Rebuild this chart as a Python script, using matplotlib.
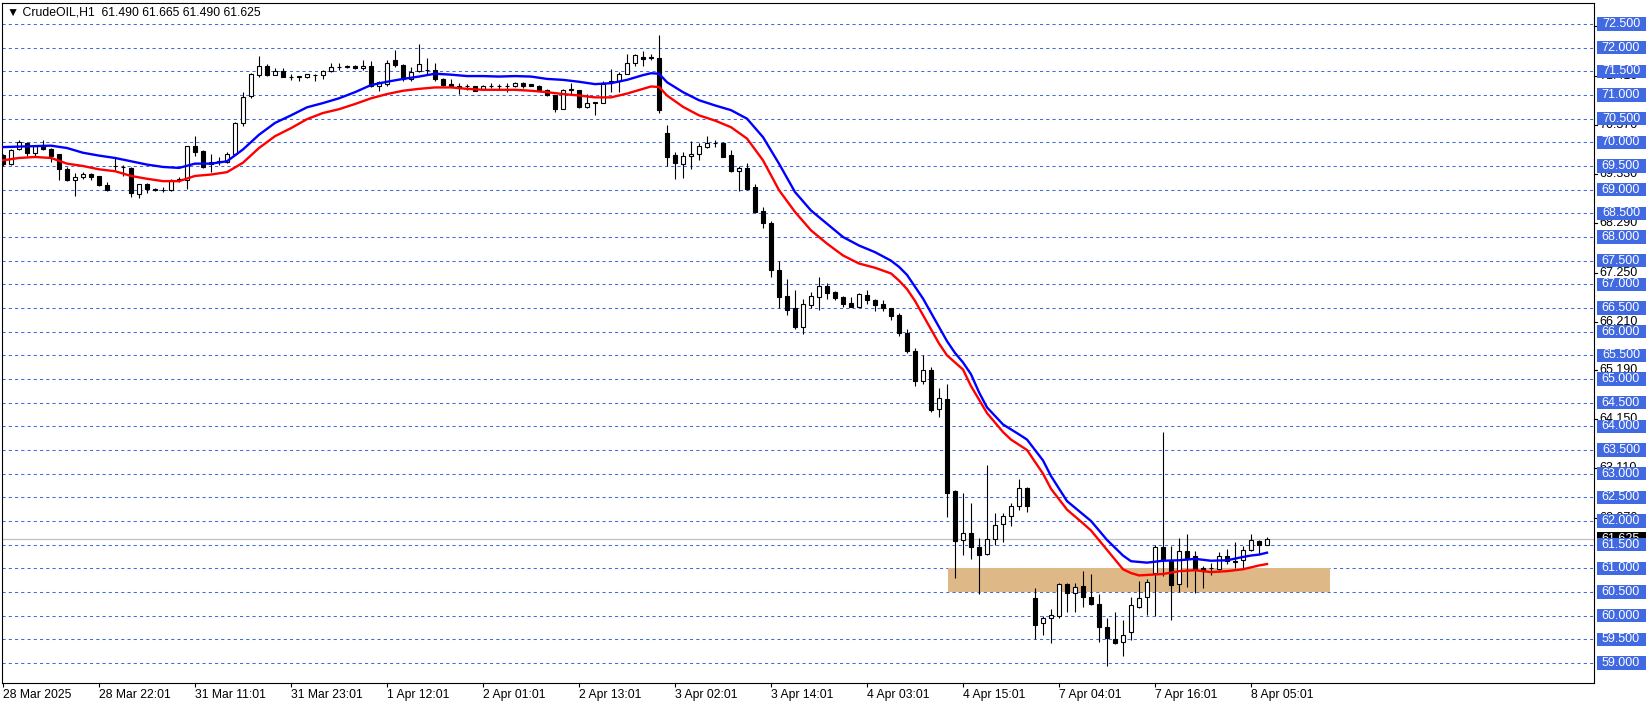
import numpy as np
import matplotlib.pyplot as plt
from matplotlib.patches import Rectangle
from matplotlib.transforms import blended_transform_factory

plt.rcParams['font.family'] = ['Liberation Sans', 'DejaVu Sans']

# CrudeOIL H1 candles (bar 0 = first visible bar)
opens = [69.73, 69.55, 69.85, 69.98, 69.77, 69.92, 69.86, 69.75, 69.43, 69.20,
         69.27, 69.33, 69.28, 69.09, 69.49, 69.48, 69.46, 68.91, 69.13, 69.02,
         69.00, 68.99, 69.21, 69.21, 69.92, 69.82, 69.54, 69.58, 69.59, 69.76,
         70.41, 70.97, 71.43, 71.62, 71.43, 71.50, 71.38, 71.38, 71.39, 71.42,
         71.43, 71.50, 71.59, 71.60, 71.62, 71.57, 71.62, 71.20, 71.23, 71.73,
         71.64, 71.34, 71.50, 71.53, 71.53, 71.34, 71.23, 71.20, 71.18, 71.18,
         71.13, 71.20, 71.19, 71.20, 71.18, 71.26, 71.23, 71.20, 71.11, 71.00,
         70.70, 71.13, 71.10, 70.74, 70.85, 70.84, 71.30, 71.30, 71.45, 71.68,
         71.80, 71.80, 71.79, 70.20, 69.73, 69.55, 69.71, 69.76, 69.90, 69.98,
         69.99, 69.73, 69.39, 69.46, 69.05, 68.54, 68.30, 67.30, 66.75, 66.49,
         66.10, 66.56, 66.73, 66.96, 66.84, 66.73, 66.60, 66.53, 66.77, 66.66,
         66.58, 66.50, 66.36, 65.98, 65.60, 64.95, 65.20, 64.37, 64.58, 62.63,
         61.60, 61.75, 61.45, 61.30, 61.62, 61.94, 62.10, 62.32, 62.70, 60.38,
         59.84, 59.94, 60.00, 60.67, 60.47, 60.63, 60.40, 60.24, 59.77, 59.51,
         59.44, 59.65, 60.19, 60.40, 60.91, 61.45, 61.16, 60.67, 61.36, 61.25,
         61.00, 61.00, 60.99, 61.25, 61.13, 61.17, 61.38, 61.57, 61.49]
highs = [69.75, 69.85, 70.06, 70.01, 69.94, 70.06, 69.87, 69.76, 69.48, 69.36,
         69.38, 69.35, 69.29, 69.17, 69.67, 69.53, 69.47, 69.12, 69.14, 69.04,
         69.05, 69.23, 69.27, 69.93, 70.13, 69.83, 69.75, 69.70, 69.79, 70.44,
         71.07, 71.47, 71.82, 71.66, 71.58, 71.57, 71.45, 71.41, 71.45, 71.45,
         71.52, 71.68, 71.67, 71.63, 71.64, 71.73, 71.71, 71.30, 71.73, 71.96,
         71.65, 71.59, 72.07, 71.79, 71.68, 71.35, 71.33, 71.26, 71.23, 71.19,
         71.21, 71.25, 71.23, 71.26, 71.28, 71.27, 71.24, 71.21, 71.12, 71.01,
         71.12, 71.26, 71.11, 71.02, 70.86, 71.29, 71.55, 71.48, 71.87, 71.87,
         71.92, 71.86, 72.26, 70.36, 69.80, 69.80, 70.02, 69.99, 70.13, 70.04,
         70.00, 69.83, 69.51, 69.57, 69.13, 68.63, 68.34, 67.49, 67.12, 66.87,
         66.68, 66.84, 67.15, 67.03, 66.86, 66.75, 66.73, 66.82, 66.87, 66.68,
         66.66, 66.51, 66.40, 66.05, 65.65, 65.50, 65.25, 64.80, 64.90, 62.65,
         62.60, 62.38, 61.64, 63.19, 62.17, 62.17, 62.39, 62.89, 62.72, 60.59,
         59.99, 60.13, 60.69, 60.70, 60.69, 60.95, 60.88, 60.45, 59.95, 60.08,
         59.90, 60.40, 60.73, 60.78, 61.50, 63.89, 61.47, 61.64, 61.72, 61.36,
         61.05, 61.12, 61.35, 61.41, 61.56, 61.48, 61.72, 61.60, 61.665]
lows = [69.50, 69.53, 69.83, 69.71, 69.71, 69.84, 69.59, 69.21, 69.18, 68.86,
        69.23, 69.21, 69.08, 68.98, 69.41, 69.29, 68.84, 68.83, 68.92, 68.97,
        68.96, 68.97, 69.16, 69.02, 69.71, 69.46, 69.38, 69.52, 69.57, 69.73,
        70.34, 70.93, 71.38, 71.40, 71.42, 71.37, 71.32, 71.30, 71.36, 71.29,
        71.34, 71.49, 71.53, 71.58, 71.56, 71.52, 71.16, 71.09, 71.20, 71.59,
        71.30, 71.30, 71.48, 71.45, 71.30, 71.18, 71.16, 71.02, 71.11, 71.08,
        71.12, 71.14, 71.11, 71.07, 71.16, 71.14, 71.18, 71.10, 70.97, 70.65,
        70.70, 71.02, 70.72, 70.72, 70.57, 70.83, 71.06, 71.06, 71.44, 71.62,
        71.61, 71.73, 70.62, 69.49, 69.23, 69.25, 69.44, 69.63, 69.87, 69.90,
        69.68, 69.37, 68.97, 69.00, 68.51, 68.20, 67.16, 66.49, 66.35, 66.05,
        65.96, 66.51, 66.46, 66.70, 66.66, 66.52, 66.52, 66.52, 66.58, 66.44,
        66.44, 66.24, 65.90, 65.55, 64.85, 64.90, 64.30, 64.20, 62.08, 60.80,
        61.29, 61.20, 60.46, 61.29, 61.50, 61.55, 61.90, 62.23, 62.20, 59.50,
        59.60, 59.42, 59.95, 60.08, 60.08, 60.19, 60.22, 59.44, 58.94, 59.40,
        59.14, 59.49, 60.16, 60.01, 60.00, 60.84, 59.91, 60.50, 60.60, 60.48,
        60.58, 60.85, 60.97, 61.10, 61.00, 61.00, 61.37, 61.30, 61.49]
closes = [69.55, 69.84, 70.00, 69.77, 69.92, 69.85, 69.71, 69.43, 69.20, 69.26,
          69.33, 69.26, 69.09, 69.00, 69.50, 69.48, 68.92, 69.11, 69.02, 69.00,
          69.00, 69.20, 69.22, 69.92, 69.80, 69.48, 69.58, 69.60, 69.75, 70.41,
          70.95, 71.45, 71.62, 71.43, 71.50, 71.38, 71.38, 71.40, 71.44, 71.43,
          71.50, 71.60, 71.60, 71.61, 71.57, 71.62, 71.20, 71.27, 71.68, 71.64,
          71.34, 71.48, 71.66, 71.53, 71.34, 71.21, 71.18, 71.14, 71.18, 71.09,
          71.20, 71.20, 71.18, 71.20, 71.26, 71.20, 71.20, 71.11, 70.99, 70.70,
          71.11, 71.11, 70.74, 70.83, 70.84, 71.23, 71.27, 71.45, 71.68, 71.84,
          71.77, 71.78, 70.68, 69.69, 69.56, 69.72, 69.75, 69.92, 69.98, 69.99,
          69.70, 69.39, 69.45, 69.01, 68.53, 68.30, 67.30, 66.73, 66.46, 66.10,
          66.58, 66.75, 66.96, 66.82, 66.71, 66.58, 66.53, 66.79, 66.66, 66.56,
          66.49, 66.34, 65.98, 65.60, 64.95, 65.20, 64.34, 64.60, 62.60, 61.57,
          61.75, 61.45, 61.29, 61.62, 61.92, 62.10, 62.32, 62.70, 62.31, 59.81,
          59.94, 60.02, 60.67, 60.47, 60.61, 60.40, 60.24, 59.77, 59.52, 59.42,
          59.60, 60.22, 60.38, 60.71, 61.45, 61.17, 60.64, 61.36, 61.21, 60.99,
          60.94, 61.00, 61.25, 61.15, 61.16, 61.38, 61.59, 61.50, 61.625]

# moving averages (blue / red), read at bar positions
blue_bars = [0, 2, 4, 6, 8, 10, 12, 14, 16, 18, 20, 22, 24, 26, 28, 30, 32, 34, 36, 38,
             40, 42, 44, 46, 48, 50, 52, 54, 56, 58, 60, 62, 64, 66, 68, 70, 72, 74, 76, 78,
             80, 81, 82, 83, 85, 87, 89, 91, 93, 95, 97, 99, 101, 103, 105, 107, 109, 111, 112,
             113, 114, 115, 116, 117, 118, 119, 120, 121, 122, 123, 125, 127, 128, 130, 131,
             133, 135, 136, 138, 140, 141, 143, 145, 147, 149, 151, 153, 155, 156, 157, 158]
blue_vals = [69.90, 69.91, 69.92, 69.93, 69.88, 69.78, 69.72, 69.67, 69.60, 69.53,
             69.48, 69.46, 69.55, 69.55, 69.60, 69.85, 70.16, 70.41, 70.57, 70.74,
             70.83, 70.93, 71.06, 71.21, 71.28, 71.34, 71.39, 71.45, 71.43, 71.40,
             71.40, 71.39, 71.40, 71.39, 71.34, 71.32, 71.28, 71.23, 71.25, 71.32,
             71.42, 71.46, 71.45, 71.27, 71.06, 70.89, 70.78, 70.68, 70.50, 70.11,
             69.55, 68.95, 68.56, 68.28, 68.00, 67.82, 67.68, 67.50, 67.37,
             67.20, 66.95, 66.70, 66.40, 66.10, 65.80, 65.55, 65.35, 65.10, 64.72,
             64.40, 64.04, 63.83, 63.72, 63.28, 62.95, 62.42, 62.14, 62.00, 61.60,
             61.27, 61.15, 61.12, 61.16, 61.17, 61.20, 61.16, 61.17, 61.24, 61.27,
             61.29, 61.33]
red_bars = [0, 2, 4, 6, 8, 10, 12, 14, 16, 18, 20, 22, 24, 26, 28, 30, 32, 34, 36, 38,
            40, 42, 44, 46, 48, 50, 52, 54, 56, 58, 60, 62, 64, 66, 68, 70, 72, 74, 76, 78,
            80, 81, 82, 83, 85, 87, 89, 91, 93, 95, 97, 99, 101, 103, 105, 107, 109, 111, 112,
            113, 114, 115, 116, 117, 118, 119, 120, 121, 123, 125, 126, 128, 130, 131, 133,
            135, 136, 138, 140, 141, 142, 143, 145, 147, 149, 151, 153, 155, 156, 157, 158]
red_vals = [69.62, 69.67, 69.69, 69.67, 69.55, 69.50, 69.43, 69.39, 69.29, 69.23,
            69.18, 69.18, 69.29, 69.32, 69.37, 69.57, 69.88, 70.13, 70.30, 70.49,
            70.62, 70.70, 70.81, 70.93, 71.02, 71.09, 71.13, 71.16, 71.16, 71.13,
            71.11, 71.11, 71.11, 71.09, 71.06, 71.02, 70.99, 70.95, 70.95, 71.03,
            71.13, 71.18, 71.17, 70.99, 70.75, 70.57, 70.46, 70.32, 70.08, 69.62,
            68.99, 68.53, 68.14, 67.86, 67.61, 67.44, 67.35, 67.23, 67.08,
            66.90, 66.65, 66.35, 66.05, 65.75, 65.50, 65.35, 65.20, 64.85, 64.28,
            63.88, 63.72, 63.50, 63.00, 62.68, 62.24, 61.95, 61.80, 61.39, 60.98,
            60.90, 60.85, 60.86, 60.88, 60.94, 60.96, 60.92, 60.94, 60.98, 61.02,
            61.06, 61.09]

tick_bars = [0, 12, 24, 36, 48, 60, 72, 84, 96, 108, 120, 132, 144, 156]
tick_labels = ['28 Mar 2025', '28 Mar 22:01', '31 Mar 11:01', '31 Mar 23:01',
               '1 Apr 12:01', '2 Apr 01:01', '2 Apr 13:01', '3 Apr 02:01',
               '3 Apr 14:01', '4 Apr 03:01', '4 Apr 15:01', '7 Apr 04:01',
               '7 Apr 16:01', '8 Apr 05:01']

grid_levels = np.arange(59.0, 72.51, 0.5)
scale_labels = [72.45, 71.41, 70.37, 69.33, 68.29, 67.25, 66.21, 65.19, 64.15, 63.11, 62.07]
last_price = 61.625
zone_lo, zone_hi = 60.5, 61.0
zone_from, zone_to = 118.1, 165.9

W, H = 1651, 707
fig = plt.figure(figsize=(W / 100, H / 100), dpi=100)
ax = fig.add_axes([2 / W, 24 / H, 1592 / W, 680 / H])
ax.set_xlim(-0.125, 198.875)
ax.set_ylim(58.577, 72.944)
ppu = 680 / (72.944 - 58.577)  # pixels per price unit

for lv in grid_levels:
    ax.axhline(lv, color='#4169E1', lw=0.75, dashes=(3, 3), zorder=1)

ax.add_patch(Rectangle((zone_from, zone_lo), zone_to - zone_from, zone_hi - zone_lo,
                       facecolor='#DEB887', edgecolor='none', zorder=1.5))
ax.axhline(last_price, color='#C0C0C0', lw=0.9, zorder=2)

o = np.array(opens)
h = np.array(highs)
l = np.array(lows)
c = np.array(closes)
idx = np.arange(len(o))

ax.vlines(idx, l, h, color='black', lw=0.8, zorder=3)
faces = np.where(c >= o, 'white', 'black')
ax.bar(idx, np.abs(c - o), bottom=np.minimum(o, c), width=0.62, color=faces,
       edgecolor='black', linewidth=0.8, zorder=4)

ax.plot(blue_bars, blue_vals, color='#0000FF', lw=1.7, zorder=5)
ax.plot(red_bars, red_vals, color='#FF0000', lw=1.7, zorder=5)

for sp in ax.spines.values():
    sp.set_color('black')
    sp.set_linewidth(0.8)

ax.set_yticks([])
ax.set_xticks(tick_bars)
ax.set_xticklabels(tick_labels, ha='left', fontsize=8.7)
ax.tick_params(axis='x', length=3, width=0.8, pad=1.5, direction='out')

# price scale on the right
trans = blended_transform_factory(ax.transAxes, ax.transData)
px = 1 / 1592
for v in scale_labels:
    ax.plot([1.0, 1.0 + 3 * px], [v, v], transform=trans, color='black', lw=0.8,
            clip_on=False, zorder=5)
    ax.text(1.0 + 5 * px, v, f'{v:.3f}', transform=trans, ha='left', va='center',
            fontsize=9, color='black', clip_on=False, zorder=5)

bh = 13.5 / ppu
ax.add_patch(Rectangle((1.0 + 3 * px, last_price - bh / 2), 49 * px, bh, transform=trans,
                       facecolor='black', edgecolor='none', clip_on=False, zorder=5.5))
ax.text(1.0 + 27 * px, last_price, f'{last_price:.3f}', transform=trans, ha='center',
        va='center', fontsize=9, color='white', clip_on=False, zorder=5.6)

for lv in grid_levels:
    ax.add_patch(Rectangle((1.0 + 3 * px, lv - bh / 2), 49 * px, bh, transform=trans,
                           facecolor='#4169E1', edgecolor='none', clip_on=False, zorder=6))
    ax.text(1.0 + 27 * px, lv, f'{lv:.3f}', transform=trans, ha='center', va='center',
            fontsize=9, color='white', clip_on=False, zorder=7)

fig.text(7 / W, 1 - 12.5 / H, '▼ CrudeOIL,H1  61.490 61.665 61.490 61.625',
         fontsize=8.8, va='center', ha='left', color='black')

fig.savefig('out.png', dpi=100)
